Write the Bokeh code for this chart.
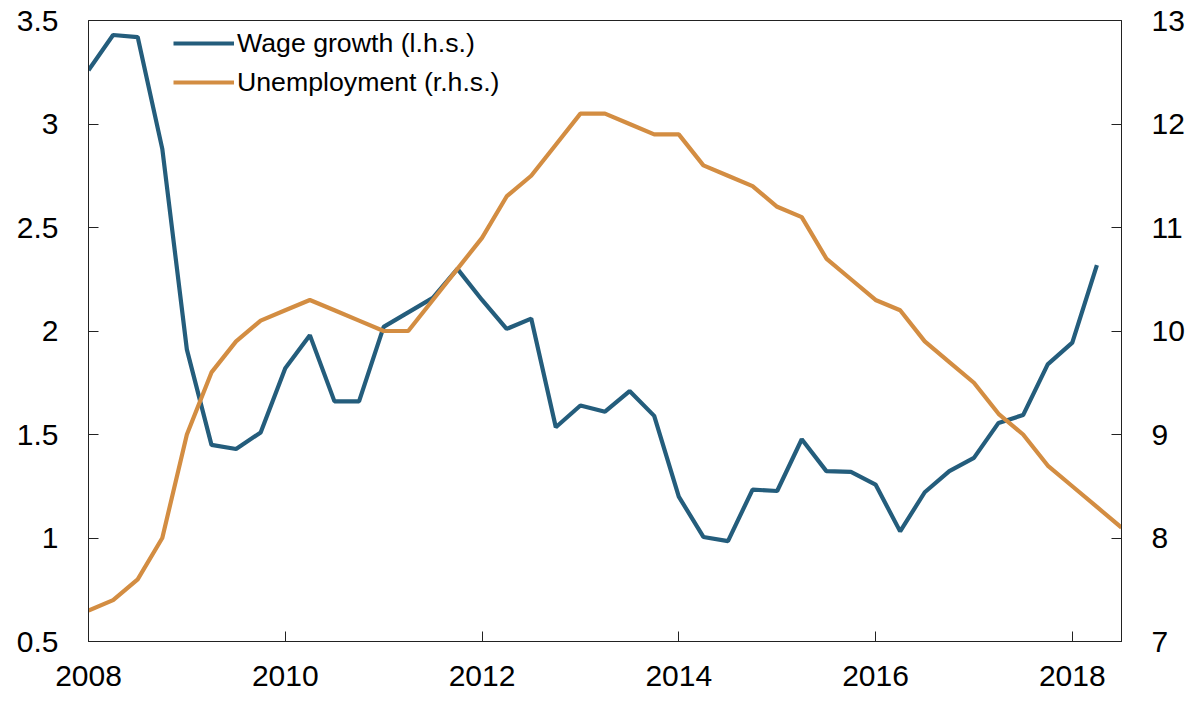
from bokeh.plotting import figure
from bokeh.models import (Range1d, LinearAxis, FixedTicker, NumeralTickFormatter,
                          Legend, LegendItem)
from bokeh.embed import file_html
from bokeh.resources import INLINE

# ---- data (quarterly) ----
wage_x = [2008.0 + 0.25 * i for i in range(42)]
wage_growth = [3.26, 3.43, 3.42, 2.88, 1.91, 1.45, 1.43, 1.51, 1.82, 1.98,
               1.66, 1.66, 2.02, 2.09, 2.16, 2.30, 2.15, 2.01, 2.06, 1.535,
               1.64, 1.61, 1.71, 1.59, 1.20, 1.005, 0.985, 1.234, 1.227, 1.477,
               1.323, 1.319, 1.258, 1.032, 1.221, 1.323, 1.387, 1.556, 1.594, 1.839,
               1.944, 2.318]
unemp_x = [2008.0 + 0.25 * i for i in range(43)]
unemployment = [7.3, 7.4, 7.6, 8.0, 9.0, 9.6, 9.9, 10.1, 10.2, 10.3,
                10.2, 10.1, 10.0, 10.0, 10.3, 10.6, 10.9, 11.3, 11.5, 11.8,
                12.1, 12.1, 12.0, 11.9, 11.9, 11.6, 11.5, 11.4, 11.2, 11.1,
                10.7, 10.5, 10.3, 10.2, 9.9, 9.7, 9.5, 9.2, 9.0, 8.7,
                8.5, 8.3, 8.1]
x_ticks = [2008, 2010, 2012, 2014, 2016, 2018]
left_ticks = [0.5, 1.0, 1.5, 2.0, 2.5, 3.0, 3.5]
right_ticks = [7, 8, 9, 10, 11, 12, 13]
labels = ["Wage growth (l.h.s.)", "Unemployment (r.h.s.)"]

BLUE = "#245d7c"
ORANGE = "#d38d42"
FONT = "Liberation Sans"

W, H = 1193, 701
FL, FT, FR, FB = 88, 20, 1121, 641
p = figure(width=W, height=H, output_backend="svg", toolbar_location=None,
           x_range=Range1d(2008, 2018.5), y_range=Range1d(0.5, 3.5),
           min_border_left=FL, min_border_top=FT, min_border_right=W - FR,
           min_border_bottom=H - FB)
p.extra_y_ranges = {"right": Range1d(7, 13)}

p.xgrid.visible = False
p.ygrid.visible = False
p.outline_line_color = "#222222"
p.outline_line_width = 1
p.background_fill_color = "white"
p.border_fill_color = "white"

r1 = p.line(wage_x, wage_growth, line_color=BLUE, line_width=4.2)
r2 = p.line(unemp_x, unemployment, line_color=ORANGE, line_width=4.2,
            y_range_name="right")

raxis = LinearAxis(y_range_name="right")
p.add_layout(raxis, "right")

for ax in [p.xaxis[0], p.yaxis[0], raxis]:
    ax.axis_line_color = "#222222"
    ax.axis_line_width = 1
    ax.major_tick_line_color = "#222222"
    ax.major_tick_in = 10
    ax.major_tick_out = 0
    ax.minor_tick_line_color = None
    ax.major_label_text_font = FONT
    ax.major_label_text_font_size = "30px"
    ax.major_label_text_color = "black"

p.xaxis[0].ticker = FixedTicker(ticks=x_ticks)
p.xaxis[0].major_label_standoff = 24
p.yaxis[0].ticker = FixedTicker(ticks=left_ticks)
p.yaxis[0].formatter = NumeralTickFormatter(format="0.[0]")
p.yaxis[0].major_label_standoff = 30
raxis.ticker = FixedTicker(ticks=right_ticks)
raxis.formatter = NumeralTickFormatter(format="0")
raxis.major_label_standoff = 30

frame_h = FB - FT
legend = Legend(items=[LegendItem(label=labels[0], renderers=[r1]),
                       LegendItem(label=labels[1], renderers=[r2])],
                location=(85, frame_h - 80), padding=0, margin=0, spacing=3,
                glyph_width=61, glyph_height=36, label_height=36,
                label_standoff=3, label_text_font=FONT,
                label_text_font_size="26.7px", label_text_color="black",
                border_line_alpha=0, background_fill_alpha=0)
p.add_layout(legend)

open("out.html", "w").write(file_html(p, INLINE))
